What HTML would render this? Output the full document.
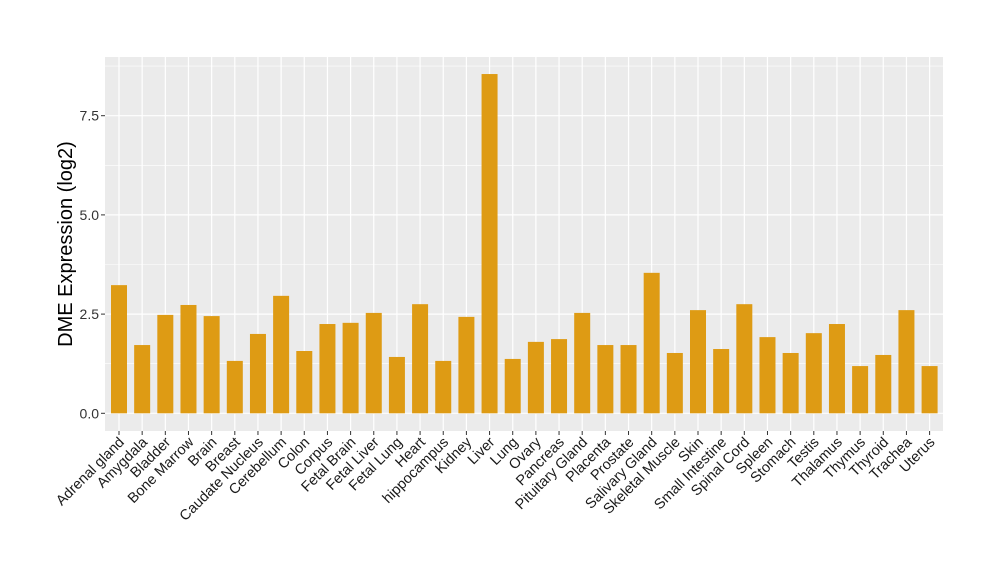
<!DOCTYPE html>
<html><head><style>body{margin:0;background:#fff}svg{display:block}</style></head><body>
<svg id="s" width="1000" height="580" xmlns="http://www.w3.org/2000/svg" font-family="Liberation Sans, sans-serif">
<rect x="105" y="57" width="838" height="374" fill="#ebebeb"/>
<g id="g"></g>
</svg>
<script>
const names=["Adrenal gland","Amygdala","Bladder","Bone Marrow","Brain","Breast","Caudate Nucleus","Cerebellum","Colon","Corpus","Fetal Brain","Fetal Liver","Fetal Lung","Heart","hippocampus","Kidney","Liver","Lung","Ovary","Pancreas","Pituitary Gland","Placenta","Prostate","Salivary Gland","Skeletal Muscle","Skin","Small Intestine","Spinal Cord","Spleen","Stomach","Testis","Thalamus","Thymus","Thyroid","Trachea","Uterus"];
const v=[3.23,1.72,2.48,2.73,2.45,1.32,2.0,2.96,1.57,2.25,2.28,2.53,1.42,2.75,1.32,2.43,8.55,1.37,1.8,1.87,2.53,1.72,1.72,3.54,1.52,2.6,1.62,2.75,1.92,1.52,2.02,2.25,1.19,1.47,2.6,1.19];
const y0=413.3,k=39.68;let h="";
[1.25,3.75,6.25,8.75].forEach(t=>{const y=y0-t*k;h+=`<line x1="105" x2="943" y1="${y}" y2="${y}" stroke="#fff" stroke-width="0.6"/>`});
[0,2.5,5,7.5].forEach(t=>{const y=y0-t*k;h+=`<line x1="105" x2="943" y1="${y}" y2="${y}" stroke="#fff" stroke-width="1.2"/><line x1="101" x2="105" y1="${y}" y2="${y}" stroke="#333"/><text x="99" y="${y+5}" text-anchor="end" font-size="14" fill="#333">${t.toFixed(1)}</text>`});
names.forEach((n,i)=>{const c=119+i*23.16;h+=`<line x1="${c}" x2="${c}" y1="57" y2="431" stroke="#fff" stroke-width="1.2"/>`;});
names.forEach((n,i)=>{const c=119+i*23.16,t=y0-v[i]*k;h+=`<rect x="${c-8}" y="${t}" width="16" height="${y0-t}" fill="#de9b14"/><line x1="${c}" x2="${c}" y1="431" y2="435" stroke="#333"/><text transform="translate(${c+6},443) rotate(-45)" text-anchor="end" font-size="14.5" fill="#1a1a1a">${n}</text>`});
h+=`<text transform="translate(72,244) rotate(-90)" text-anchor="middle" font-size="20" fill="#000">DME Expression (log2)</text>`;
document.getElementById("g").innerHTML=h;
</script>
</body></html>
